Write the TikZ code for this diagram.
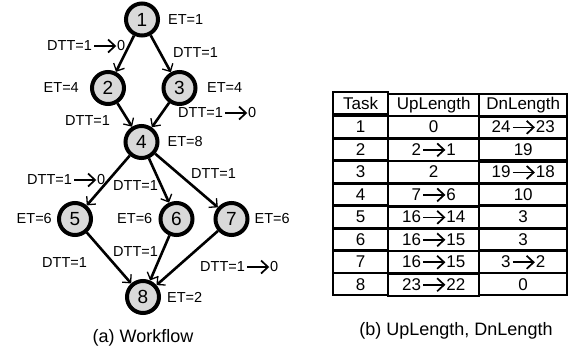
\documentclass[tikz,border=0pt]{standalone}
\usepackage{fontspec}
\setmainfont{Liberation Sans}
\usepackage{tikz}
\usetikzlibrary{arrows.meta,positioning,matrix}
\definecolor{WFGray}{HTML}{D9D9D9}
\definecolor{WFInk}{HTML}{000000}

% short arrow for "old value -> new value"
\newcommand{\becomes}{\hspace{1.5pt}\tikz[baseline=-0.6ex]\draw[-{Straight Barb[length=7pt,width=13pt,line width=1.7pt]},line width=1.7pt,draw=WFInk] (0,0) -- (22pt,0);}

\begin{document}
\begin{tikzpicture}[
    x=1pt,y=1pt,
    font=\fontsize{14.5}{16}\selectfont,
    task/.style={circle,draw=WFInk,line width=4pt,fill=WFGray,minimum size=32pt,
      inner sep=0pt,font=\fontsize{19}{19}\selectfont},
    note/.style={inner sep=0pt},
    flow/.style={-{Straight Barb[length=6pt,width=12pt,line width=1.3pt]},line width=2.6pt,draw=WFInk},
    cell/.style={draw=WFInk,line width=2.4pt,minimum height=22pt,inner sep=0pt,
      font=\fontsize{17}{19}\selectfont},
    caption/.style={font=\fontsize{18}{20}\selectfont}
  ]
  \useasboundingbox (0,0) rectangle (578,-354);

  % workflow tasks
  \node[task] (t1) at (142,-19.5) {1};
  \node[task] (t2) at (108,-88) {2};
  \node[task] (t3) at (179.5,-88) {3};
  \node[task] (t4) at (141.5,-142) {4};
  \node[task] (t5) at (75,-219) {5};
  \node[task] (t6) at (176.5,-219) {6};
  \node[task] (t7) at (231.5,-219) {7};
  \node[task] (t8) at (143,-297) {8};

  % execution times
  \node[note,right=8pt of t1] (et1) {ET=1};
  \node[note,left=11pt of t2] (et2) {ET=4};
  \node[note,right=9.5pt of t3] (et3) {ET=4};
  \node[note,right=8pt of t4] (et4) {ET=8};
  \node[note,left=5pt of t5] (et5) {ET=6};
  \node[note,left=6pt of t6] (et6) {ET=6};
  \node[note,right=5pt of t7] (et7) {ET=6};
  \node[note,right=6pt of t8] (et8) {ET=2};

  \draw[flow] (t1) -- (t2);
  \draw[flow] (t1) -- (t3);
  \draw[flow] (t2) -- (t4);
  \draw[flow] (t3) -- (t4);
  \draw[flow] (t4) -- (t5);
  \draw[flow] (t4) -- (t6);
  \draw[flow] (t4) -- (t7);
  \draw[flow] (t5) -- (t8);
  \draw[flow] (t6) -- (t8);
  \draw[flow] (t7) -- (t8);

  % data transfer times
  \node[note,anchor=west] (d12) at (47,-46) {DTT=1\becomes0};
  \node[note,anchor=west] (d13) at (173,-53) {DTT=1};
  \node[note,anchor=west] (d24) at (65,-121) {DTT=1};
  \node[note,anchor=west] (d34) at (178,-113) {DTT=1\becomes0};
  \node[note,anchor=west] (d45) at (27,-180) {DTT=1\becomes0};
  \node[note,anchor=west] (d46) at (113,-186) {DTT=1};
  \node[note,anchor=west] (d47) at (191,-174) {DTT=1};
  \node[note,anchor=west] (d58) at (42,-263) {DTT=1};
  \node[note,anchor=west] (d68) at (113,-252) {DTT=1};
  \node[note,anchor=west] (d78) at (200,-267) {DTT=1\becomes0};

  \node[caption] (capa) at (143,-338) {(a) Workflow};

  % path lengths table
  \matrix (lens) [matrix of nodes,nodes={cell},anchor=north west,inner sep=0pt,outer sep=0pt,
    column sep=-2.4pt,row sep=-2.4pt,
    column 1/.style={nodes={minimum width=55pt}},
    column 2/.style={nodes={minimum width=91pt}},
    column 3/.style={nodes={minimum width=88pt}}] at (332,-91) {
    Task & UpLength & DnLength \\
    1 & 0 & 24\becomes23 \\
    2 & 2\becomes1 & 19 \\
    3 & 2 & 19\becomes18 \\
    4 & 7\becomes6 & 10 \\
    5 & 16\becomes14 & 3 \\
    6 & 16\becomes15 & 3 \\
    7 & 16\becomes15 & 3\becomes2 \\
    8 & 23\becomes22 & 0 \\
  };

  \node[caption] (capb) at (456,-331) {(b) UpLength, DnLength};
\end{tikzpicture}
\end{document}
